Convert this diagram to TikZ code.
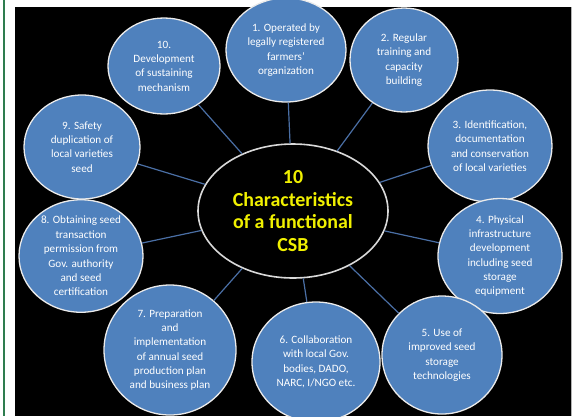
\documentclass[tikz,border=0pt]{standalone}
\usepackage{fontspec}
\setmainfont{Carlito}
\usetikzlibrary{shapes.geometric}
\definecolor{csbblue}{HTML}{4F81BD}
\definecolor{csbline}{HTML}{4A6FA5}
\definecolor{csbyellow}{HTML}{F0F000}
\definecolor{csbgreen}{HTML}{2E7D4F}
\begin{document}
\begin{tikzpicture}[x=1bp,y=-1bp,
  item/.style={ellipse, draw=white!92!black, line width=1.3bp, fill=csbblue, text=white, align=center, inner sep=0pt, font=\fontsize{11.2}{14.4}\selectfont},
  hub/.style={ellipse, draw=white!85!black, line width=1.6bp, fill=black, text=csbyellow, align=center, inner sep=0pt, font=\fontsize{20}{22.8}\selectfont\bfseries},
  spoke/.style={csbline, line width=1.2bp}]
\useasboundingbox (0,0) rectangle (573,416);
\fill[white] (0,0) rectangle (573,416);
\draw[csbgreen, line width=1.6bp] (4,0) -- (4,416);
\fill[black] (15,7) rectangle (571,416);
\draw[gray!60, line width=0.8bp] (571.4,7) -- (571.4,416);
\node[hub, minimum width=190bp, minimum height=134bp] (ctr) at (293,211){10\\Characteristics\\of a functional\\CSB};
\node[item, minimum width=120bp, minimum height=104bp] (c1) at (286,50){1. Operated by\\legally registered\\farmers'\\organization};
\node[item, minimum width=108bp, minimum height=104bp] (c2) at (404,60){2. Regular\\training and\\capacity\\building};
\node[item, minimum width=124bp, minimum height=112bp] (c3) at (490,146){3. Identification,\\documentation\\and conservation\\of local varieties};
\node[item, minimum width=124bp, minimum height=114bp] (c4) at (500,256){4. Physical\\infrastructure\\development\\including seed\\storage\\equipment};
\node[item, minimum width=120bp, minimum height=118bp] (c5) at (442,355){5. Use of\\improved seed\\storage\\technologies};
\node[item, minimum width=128bp, minimum height=120bp] (c6) at (316,362){6. Collaboration\\with local Gov.\\bodies, DADO,\\NARC, I/NGO etc.};
\node[item, minimum width=132bp, minimum height=130bp] (c7) at (170,350){7. Preparation\\and\\implementation\\of annual seed\\production plan\\and business plan};
\node[item, minimum width=124bp, minimum height=110bp] (c8) at (81,256){8. Obtaining seed\\transaction\\permission from\\Gov. authority\\and seed\\certification};
\node[item, minimum width=116bp, minimum height=104bp] (c9) at (82,147){9. Safety\\duplication of\\local varieties\\seed};
\node[item, minimum width=112bp, minimum height=96bp] (c10) at (164,66){10.\\Development\\of sustaining\\mechanism};
\draw[spoke] (ctr) -- (c1);
\draw[spoke] (ctr) -- (c2);
\draw[spoke] (ctr) -- (c3);
\draw[spoke] (ctr) -- (c4);
\draw[spoke] (ctr) -- (c5);
\draw[spoke] (ctr) -- (c6);
\draw[spoke] (ctr) -- (c7);
\draw[spoke] (ctr) -- (c8);
\draw[spoke] (ctr) -- (c9);
\draw[spoke] (ctr) -- (c10);
\end{tikzpicture}
\end{document}
